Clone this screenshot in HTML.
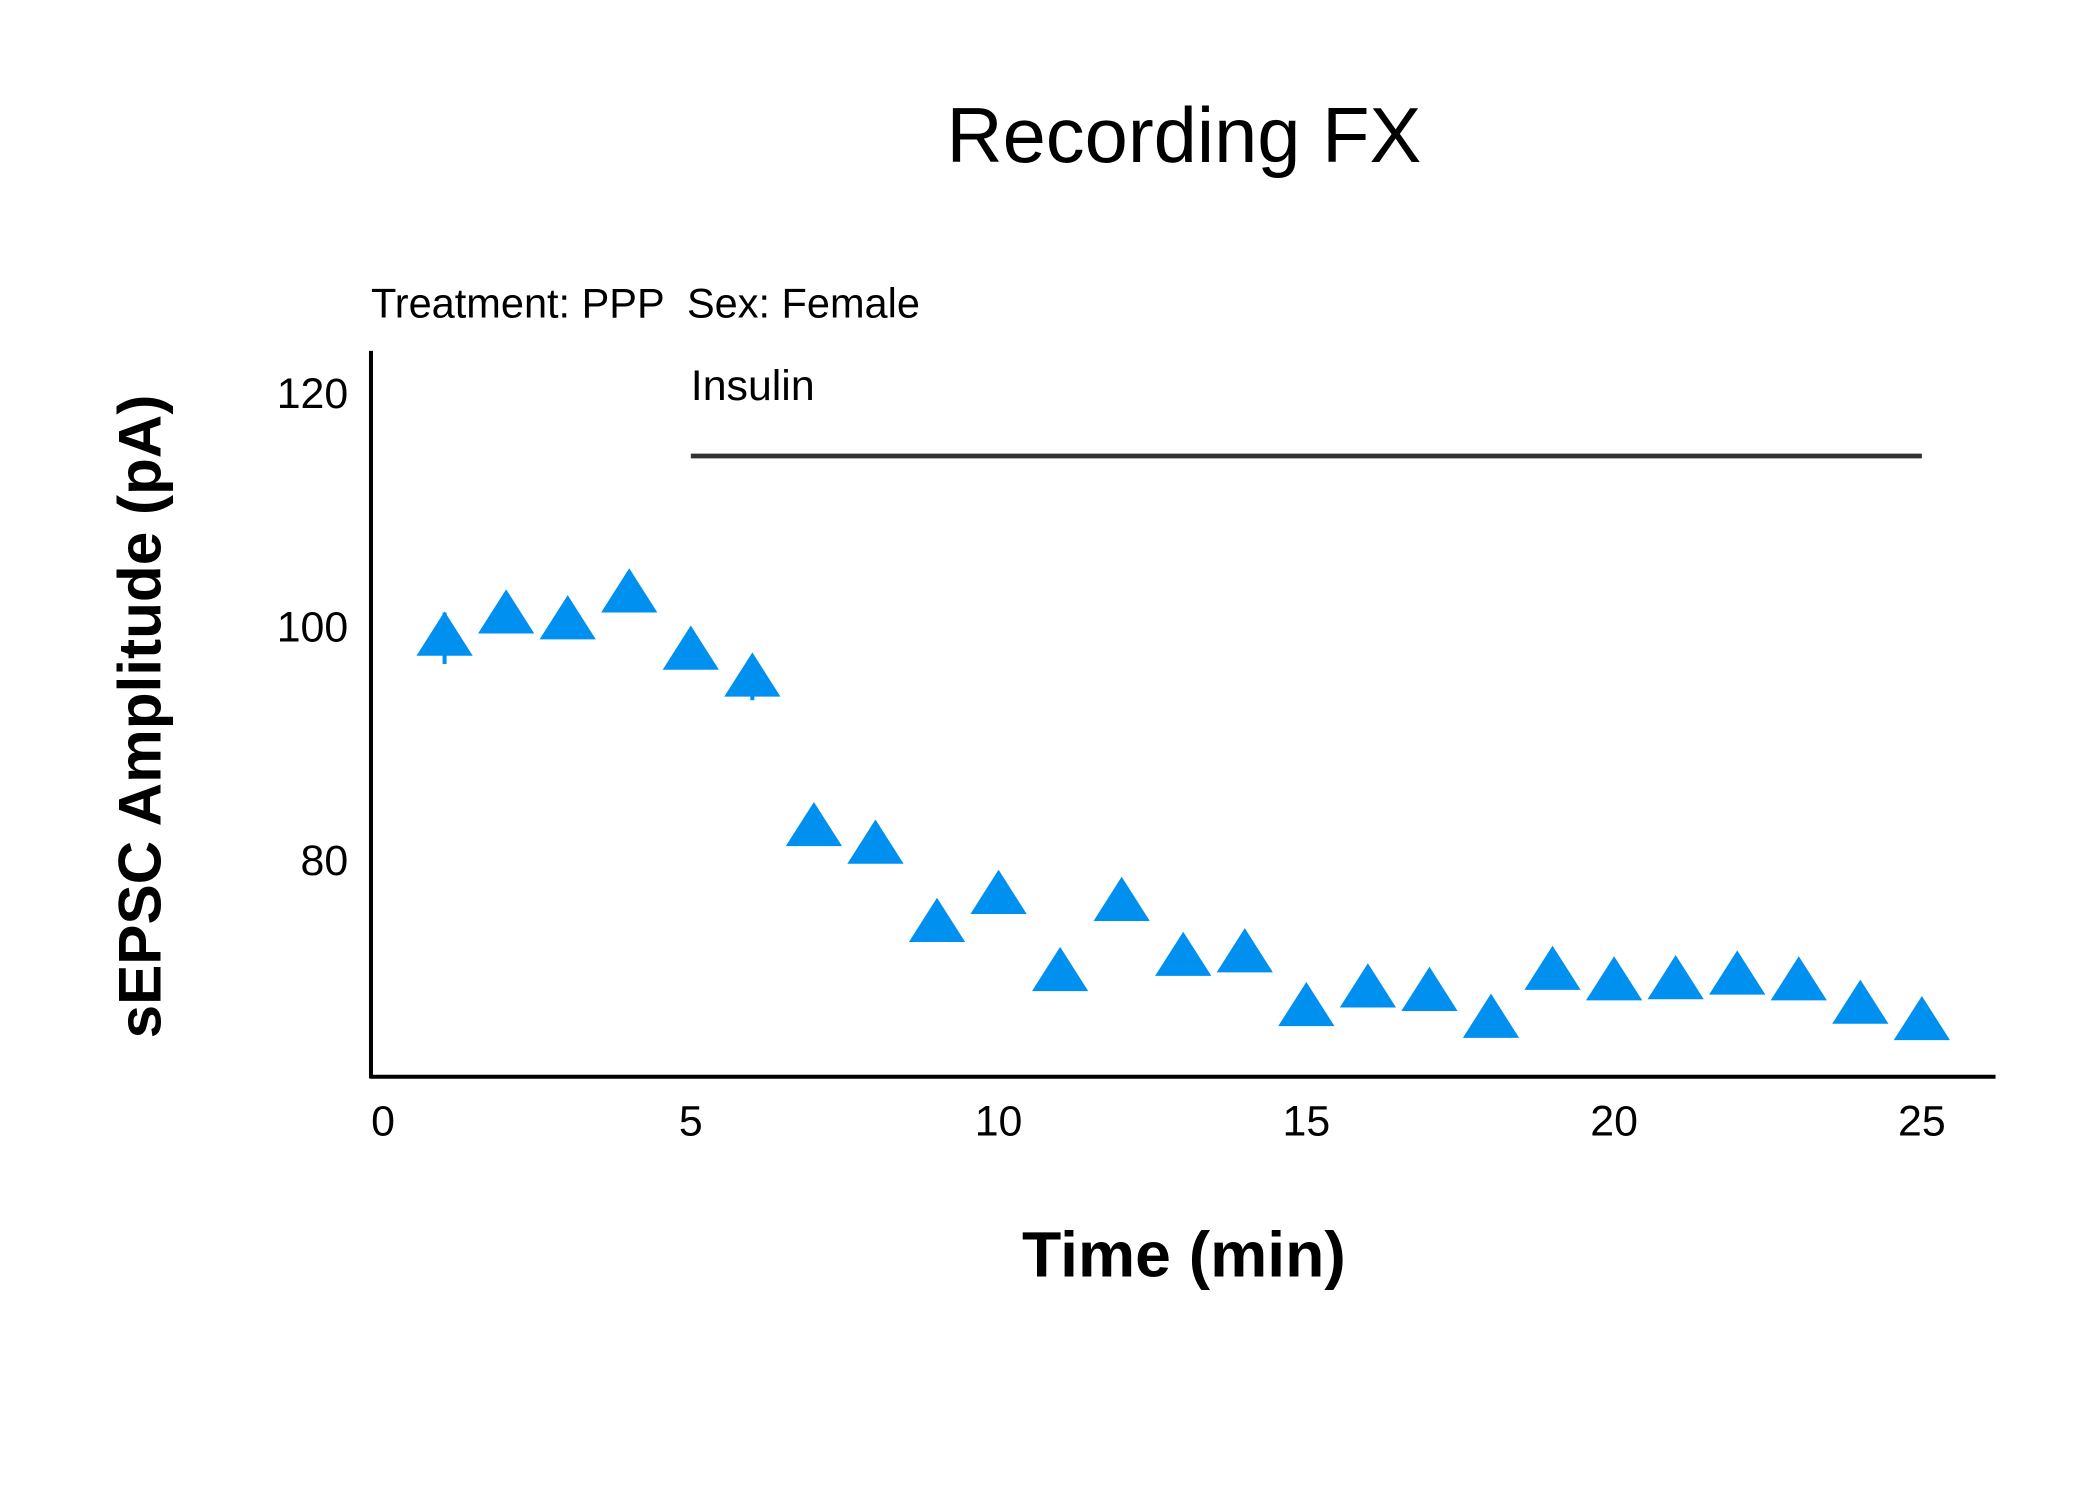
<!DOCTYPE html>
<html><head><meta charset="utf-8"><style>
html,body{margin:0;padding:0;background:#fff;}
svg{display:block;font-family:"Liberation Sans","DejaVu Sans",sans-serif;}
</style></head><body>
<svg id="chart" width="2100" height="1500" viewBox="0 0 1568 1120" xmlns="http://www.w3.org/2000/svg">
<rect width="1568" height="1120" fill="#fff"/>
<text x="884" y="121" font-size="58" text-anchor="middle" fill="#000">Recording FX</text>
<text x="277" y="237" font-size="31" fill="#000">Treatment: PPP &#160;Sex: Female</text>
<text transform="translate(120,535) rotate(-90)" font-size="45" font-weight="bold" text-anchor="middle" fill="#000">sEPSC Amplitude (pA)</text>
<text x="884" y="953" font-size="48" font-weight="bold" text-anchor="middle" fill="#000">Time (min)</text>
<g id="axes"></g>
<g id="marks"></g>
</svg>
<script>
const times=[1,2,3,4,5,6,7,8,9,10,11,12,13,14,15,16,17,18,19,20,21,22,23,24,25];
const amps=[98.9,100.8,100.3,102.6,97.7,95.4,82.6,81.1,74.4,76.8,70.2,76.2,71.5,71.8,67.2,68.8,68.5,66.2,70.3,69.4,69.5,69.9,69.4,67.4,66.0];
const errs=[2.2,1.2,1.4,1.2,1.3,1.8,1.0,1.0,0.8,1.0,0.8,1.0,0.8,0.6,0.6,0.6,0.6,0.6,0.6,0.6,0.6,0.6,0.6,0.6,0.8];
const xTicks=[0,5,10,15,20,25];
const yTicks=[80,100,120];
const insulin=[5,25];
const yInsulin=114.5;
const NS="http://www.w3.org/2000/svg";
const xS=v=>286+v*45.96;
const yS=v=>467-(v-100)*8.725;
function mk(t,a,p){const e=document.createElementNS(NS,t);for(const k in a)e.setAttribute(k,a[k]);p.appendChild(e);return e;}
const ax=document.getElementById('axes'),mg=document.getElementById('marks');
let l=mk('line',{x1:277,y1:262,x2:277,y2:805,stroke:'#000','stroke-width':3},ax);


l=mk('line',{x1:276,y1:804,x2:1490,y2:804,stroke:'#000','stroke-width':3},ax);


xTicks.forEach(t=>{const e=mk('text',{x:xS(t),y:848,'font-size':32,'text-anchor':'middle'},ax);e.textContent=t;

});
yTicks.forEach(t=>{const e=mk('text',{x:260,y:yS(t)+12,'font-size':32,'text-anchor':'end'},ax);e.textContent=t;

});
const il=mk('line',{x1:xS(insulin[0]),x2:xS(insulin[1]),y1:yS(yInsulin),y2:yS(yInsulin),stroke:'#333','stroke-width':3.5},ax);


const it=mk('text',{x:xS(insulin[0]),y:yS(yInsulin)-42,'font-size':32},ax);it.textContent='Insulin';


times.forEach((t,i)=>{const cx=xS(t),cy=yS(amps[i]);
const eb=mk('line',{x1:cx,x2:cx,y1:yS(amps[i]+errs[i]),y2:yS(amps[i]-errs[i]),stroke:'#0090f0','stroke-width':3},mg);


const p=mk('polygon',{points:`${cx},${cy-20} ${cx-21},${cy+13} ${cx+21},${cy+13}`,fill:'#0090f0'},mg);

});
</script>
</body></html>
